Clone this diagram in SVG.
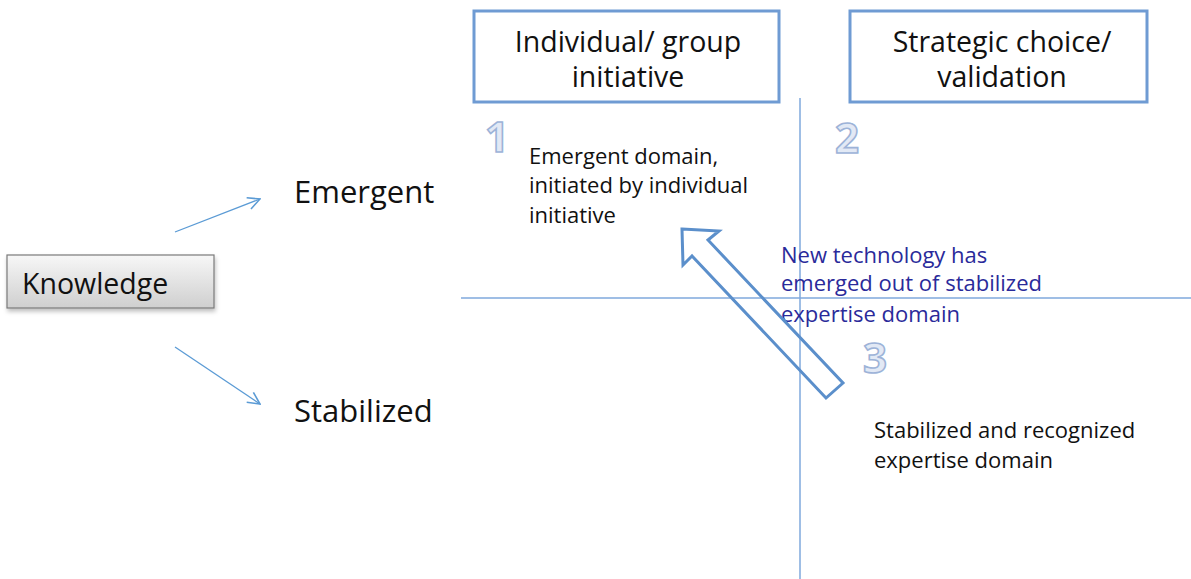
<svg xmlns="http://www.w3.org/2000/svg" width="1191" height="579" viewBox="0 0 1191 579">
  <defs>
    <linearGradient id="kgrad" x1="0" y1="0" x2="0" y2="1">
      <stop offset="0" stop-color="#f7f7f7"/>
      <stop offset="1" stop-color="#cfcfcf"/>
    </linearGradient>
    <filter id="shadow" x="-10%" y="-20%" width="130%" height="160%">
      <feDropShadow dx="1" dy="3" stdDeviation="2" flood-color="#000" flood-opacity="0.25"/>
    </filter>
    <marker id="chev" viewBox="0 0 14 14" refX="13" refY="7" markerWidth="14" markerHeight="14" markerUnits="userSpaceOnUse" orient="auto">
      <path d="M1,1 L13,7 L1,13" fill="none" stroke="#5b9bd5" stroke-width="1.6"/>
    </marker>
  </defs>
  <style>
    text { font-family: "Open Sans", "Liberation Sans", sans-serif; fill: #111; }
    .box { fill: #fff; stroke: #6f9bd3; stroke-width: 3; }
    .hdr { font-size: 28.5px; text-anchor: middle; }
    .big { font-size: 31px; }
    .small { font-size: 22px; }
    .blue { fill: #2a2a9a; }
    .num { font-size: 42px; font-weight: bold; fill: #e2e9f5; stroke: #9db3d8; stroke-width: 1.6; }
    .axis { stroke: #7fa8dc; stroke-width: 1.5; fill: none; }
    .thin { stroke: #5b9bd5; stroke-width: 1.3; fill: none; }
  </style>
  <rect width="1191" height="579" fill="#fff"/>

  <g id="axes">
    <line class="axis" x1="800" y1="98" x2="800" y2="579"/>
    <line class="axis" x1="461" y1="298" x2="1191" y2="298"/>
  </g>

  <g id="knowledge">
    <rect x="7" y="255" width="207" height="53" fill="url(#kgrad)" stroke="#7a7a7a" stroke-width="1.2" filter="url(#shadow)"/>
    <text x="22" y="294" style="font-size:28.5px">Knowledge</text>
  </g>

  <g id="emergent">
    <text class="big" x="294" y="203">Emergent</text>
  </g>
  <g id="stabilized">
    <text class="big" x="294" y="422">Stabilized</text>
  </g>

  <g id="individual">
    <rect class="box" x="474" y="11" width="305" height="91"/>
    <text class="hdr" x="628" y="52">Individual/ group</text>
    <text class="hdr" x="628" y="87">initiative</text>
  </g>

  <g id="strategic">
    <rect class="box" x="850" y="11" width="297" height="91"/>
    <text class="hdr" x="1002" y="52">Strategic choice/</text>
    <text class="hdr" x="1002" y="87">validation</text>
  </g>

  <g id="q1">
    <text class="num" x="485" y="152">1</text>
    <text class="small" x="529" y="164">Emergent domain,</text>
    <text class="small" x="529" y="193">initiated by individual</text>
    <text class="small" x="529" y="223">initiative</text>
  </g>

  <g id="q2">
    <text class="num" x="835" y="153">2</text>
  </g>

  <g id="q3">
    <text class="num" x="863" y="373">3</text>
    <text class="small" x="874" y="438">Stabilized and recognized</text>
    <text class="small" x="874" y="468">expertise domain</text>
  </g>

  <g id="transition-label">
    <text class="small blue" x="781" y="263">New technology has</text>
    <text class="small blue" x="781" y="291">emerged out of stabilized</text>
    <text class="small blue" x="781" y="322">expertise domain</text>
  </g>

  <g id="connectors">
    <line class="thin" x1="175" y1="232" x2="260" y2="199" marker-end="url(#chev)"/>
    <line class="thin" x1="175" y1="347" x2="260" y2="404" marker-end="url(#chev)"/>
    <polygon points="682,229 719,231 708,240 843,383 826,398 692,256 683,265" fill="none" stroke="#5b8fcb" stroke-width="3" stroke-linejoin="miter"/>
  </g>
</svg>
